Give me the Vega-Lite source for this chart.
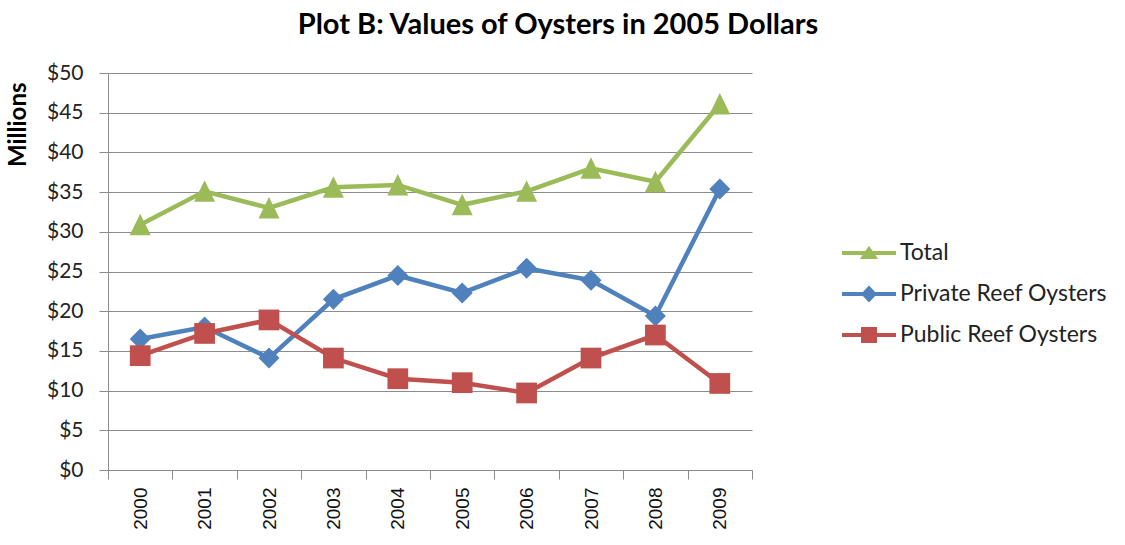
{
  "$schema": "https://vega.github.io/schema/vega-lite/v6.json",
  "width": 644,
  "height": 397,
  "autosize": {"type": "none"},
  "padding": {"left": 108, "top": 73, "right": 373, "bottom": 75},
  "background": "white",
  "config": {
    "view": {"stroke": null},
    "font": "Lato"
  },
  "title": {
    "text": "Plot B: Values of Oysters in 2005 Dollars",
    "font": "Lato",
    "fontSize": 29,
    "fontWeight": "bold",
    "color": "#000000",
    "anchor": "middle",
    "frame": "group",
    "dx": 128,
    "offset": 22
  },
  "data": {
    "values": [
      {"year": "2000", "series": "Total", "value": 30.9},
      {"year": "2001", "series": "Total", "value": 35.1},
      {"year": "2002", "series": "Total", "value": 33.0},
      {"year": "2003", "series": "Total", "value": 35.6},
      {"year": "2004", "series": "Total", "value": 35.9},
      {"year": "2005", "series": "Total", "value": 33.4},
      {"year": "2006", "series": "Total", "value": 35.1},
      {"year": "2007", "series": "Total", "value": 38.0},
      {"year": "2008", "series": "Total", "value": 36.3},
      {"year": "2009", "series": "Total", "value": 46.1},
      {"year": "2000", "series": "Private Reef Oysters", "value": 16.5},
      {"year": "2001", "series": "Private Reef Oysters", "value": 18.0},
      {"year": "2002", "series": "Private Reef Oysters", "value": 14.1},
      {"year": "2003", "series": "Private Reef Oysters", "value": 21.5},
      {"year": "2004", "series": "Private Reef Oysters", "value": 24.5},
      {"year": "2005", "series": "Private Reef Oysters", "value": 22.3},
      {"year": "2006", "series": "Private Reef Oysters", "value": 25.4},
      {"year": "2007", "series": "Private Reef Oysters", "value": 23.9},
      {"year": "2008", "series": "Private Reef Oysters", "value": 19.4},
      {"year": "2009", "series": "Private Reef Oysters", "value": 35.4},
      {"year": "2000", "series": "Public Reef Oysters", "value": 14.4},
      {"year": "2001", "series": "Public Reef Oysters", "value": 17.2},
      {"year": "2002", "series": "Public Reef Oysters", "value": 18.9},
      {"year": "2003", "series": "Public Reef Oysters", "value": 14.1},
      {"year": "2004", "series": "Public Reef Oysters", "value": 11.5},
      {"year": "2005", "series": "Public Reef Oysters", "value": 11.0},
      {"year": "2006", "series": "Public Reef Oysters", "value": 9.7},
      {"year": "2007", "series": "Public Reef Oysters", "value": 14.1},
      {"year": "2008", "series": "Public Reef Oysters", "value": 17.0},
      {"year": "2009", "series": "Public Reef Oysters", "value": 10.9}
    ]
  },
  "encoding": {
    "x": {
      "field": "year",
      "type": "ordinal",
      "scale": {"type": "band", "paddingInner": 0, "paddingOuter": 0},
      "axis": {
        "title": null,
        "tickBand": "extent",
        "tickSize": 9,
        "tickColor": "#8c8c8c",
        "domainColor": "#8c8c8c",
        "labelAngle": 270,
        "labelAlign": "right",
        "labelBaseline": "middle",
        "labelPadding": 8,
        "labelFont": "Liberation Sans",
        "labelFontSize": 19,
        "labelColor": "#111111",
        "grid": false
      }
    },
    "y": {
      "field": "value",
      "type": "quantitative",
      "scale": {"domain": [0, 50], "nice": false},
      "axis": {
        "title": "Millions",
        "titleFont": "Lato",
        "titleFontSize": 24,
        "titleFontWeight": "bold",
        "titleColor": "#000000",
        "titleAngle": 270,
        "titleAlign": "right",
        "titleBaseline": "middle",
        "titleAnchor": "end",
        "titleX": -90,
        "titleY": 9,
        "values": [0, 5, 10, 15, 20, 25, 30, 35, 40, 45, 50],
        "labelExpr": "'$' + datum.value",
        "labelFont": "Lato",
        "labelFontSize": 21,
        "labelColor": "#222222",
        "labelPadding": 16,
        "tickSize": 9,
        "tickColor": "#8c8c8c",
        "domainColor": "#8c8c8c",
        "grid": true,
        "gridColor": "#8c8c8c",
        "gridWidth": 1
      }
    },
    "color": {
      "field": "series",
      "type": "nominal",
      "scale": {
        "domain": ["Total", "Private Reef Oysters", "Public Reef Oysters"],
        "range": ["#9BBB59", "#4F81BD", "#C0504D"]
      },
      "legend": {
        "title": null,
        "orient": "none",
        "legendX": 741,
        "legendY": 160,
        "padding": 0,
        "symbolSize": 1600,
        "symbolStrokeWidth": 0,
        "labelOffset": 11,
        "labelLimit": 0,
        "labelFont": "Lato",
        "labelFontSize": 23,
        "labelColor": "#222222",
        "rowPadding": 9,
        "encode": {
          "symbols": {
            "update": {
              "shape": {"signal": "datum.value === 'Total' ? 'M-1.35,-0.1H1.35V0.1H-1.35Z M0,-0.36L0.46,0.3L-0.46,0.3Z' : datum.value === 'Private Reef Oysters' ? 'M-1.35,-0.1H1.35V0.1H-1.35Z M0,-0.42L0.4,0L0,0.42L-0.4,0Z' : 'M-1.35,-0.1H1.35V0.1H-1.35Z M-0.4,-0.4H0.4V0.4H-0.4Z'"},
              "fill": {"signal": "scale('color', datum.value)"},
              "fillOpacity": {"value": 1},
              "stroke": {"value": "transparent"},
              "strokeWidth": {"value": 0}
            }
          }
        }
      }
    }
  },
  "layer": [
    {
      "mark": {"type": "line", "strokeWidth": 4.5},
      "encoding": {}
    },
    {
      "transform": [{"filter": "datum.series === 'Total'"}],
      "mark": {"type": "point", "shape": "M0,-1.1L1.05,1.05L-1.05,1.05Z", "filled": true, "opacity": 1, "size": 400}
    },
    {
      "transform": [{"filter": "datum.series === 'Private Reef Oysters'"}],
      "mark": {"type": "point", "shape": "diamond", "filled": true, "opacity": 1, "size": 440}
    },
    {
      "transform": [{"filter": "datum.series === 'Public Reef Oysters'"}],
      "mark": {"type": "point", "shape": "square", "filled": true, "opacity": 1, "size": 430}
    }
  ]
}
